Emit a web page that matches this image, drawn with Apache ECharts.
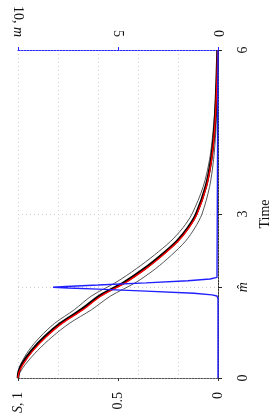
<!DOCTYPE html>
<html><head><meta charset="utf-8">
<script src="https://cdn.jsdelivr.net/npm/echarts@6/dist/echarts.min.js"></script>
<style>html,body{margin:0;padding:0;background:#fff}#c{width:273px;height:418px}</style>
</head><body><div id="c"></div>
<script>
// Time grid (x of the original chart, drawn vertically here)
const timePoints = [0, 0.1, 0.25, 0.5, 0.75, 1.0, 1.25, 1.5, 1.75, 2.0, 2.25, 2.5, 2.75, 3.0, 3.5, 4.0, 4.5, 5.0, 5.5, 6.0];
// Estimated survival curve (red)
const sRed   = [1, 0.995, 0.975, 0.925, 0.86, 0.78, 0.675, 0.585, 0.46, 0.36, 0.275, 0.2, 0.145, 0.105, 0.058, 0.032, 0.018, 0.01, 0.005, 0.002];
// Central black curve
const sBlack = [1, 0.997, 0.981, 0.932, 0.868, 0.788, 0.684, 0.594, 0.469, 0.368, 0.282, 0.206, 0.15, 0.109, 0.061, 0.034, 0.019, 0.011, 0.006, 0.002];
// Band limits (thin grey)
const sUpper = [1, 1.0, 0.987, 0.947, 0.89, 0.817, 0.718, 0.633, 0.51, 0.408, 0.318, 0.237, 0.175, 0.13, 0.074, 0.042, 0.025, 0.014, 0.007, 0.003];
const sLower = [1, 0.99, 0.963, 0.903, 0.83, 0.743, 0.632, 0.537, 0.41, 0.312, 0.232, 0.163, 0.115, 0.08, 0.042, 0.022, 0.011, 0.006, 0.003, 0.001];
// Blue density of m-hat (m axis, 0..10)
const mTimes  = [0, 1.45, 1.5, 1.52, 1.55, 1.59, 1.625, 1.645, 1.66, 1.675, 1.70, 1.74, 1.78, 1.81, 1.84, 1.87, 6.0];
const mValues = [0, 0, 0.05, 0.3, 1.2, 3.6, 6.0, 7.5, 8.25, 7.6, 6.0, 3.6, 1.5, 0.4, 0.05, 0, 0];
// Tick labels
const sTicks = [0, 0.5, 1];
const mTicks = [0, 5, 10];
const timeTicks = [0, 3, 6];
const mHat = 1.66;

const FONT = 'Liberation Serif';
const FS = 14;
const pairs = (vals, ts) => vals.map((v, i) => [v, ts[i]]);

const chart = echarts.init(document.getElementById('c'), null, {renderer: 'canvas'});
chart.setOption({
  animation: false,
  backgroundColor: '#fff',
  grid: {left: 18, right: 55, top: 50, bottom: 40, containLabel: false, outerBoundsMode: 'none'},
  xAxis: [
    { // S axis, bottom
      type: 'value', position: 'bottom', min: 0, max: 1, interval: 0.5, inverse: true,
      axisLine: {show: true, lineStyle: {color: '#555', type: [2, 1], width: 1}},
      axisTick: {show: true, inside: false, length: 3, lineStyle: {color: '#333'}},
      splitLine: {show: false},
      axisLabel: {
        rotate: 90, margin: 14, color: '#111', fontFamily: FONT, fontSize: FS,
        formatter: v => v === 1 ? '{i|S}, 1' : String(v),
        rich: {i: {fontStyle: 'italic', fontFamily: FONT, fontSize: FS, color: '#111'}}
      }
    },
    { // m axis, top
      type: 'value', position: 'top', min: 0, max: 10, interval: 5, inverse: true,
      axisLine: {show: true, lineStyle: {color: '#2828ff', type: [2, 1], width: 1}},
      axisTick: {show: true, length: 3, lineStyle: {color: '#2828ff'}},
      splitLine: {show: false},
      axisLabel: {
        rotate: 90, margin: 13, color: '#111', fontFamily: FONT, fontSize: FS,
        formatter: v => v === 10 ? '10, {i|m}' : String(v),
        rich: {i: {fontStyle: 'italic', fontFamily: FONT, fontSize: FS, color: '#111'}}
      }
    },
    { // grid only
      type: 'value', position: 'bottom', min: 0, max: 1, interval: 0.2, inverse: true,
      axisLine: {show: false}, axisTick: {show: false}, axisLabel: {show: false},
      splitLine: {show: true, lineStyle: {color: '#cfcfcf', type: [1, 3], width: 1}}
    }
  ],
  yAxis: [
    {
      type: 'value', position: 'right', min: 0, max: 6, interval: 1,
      name: 'Time', nameLocation: 'middle', nameRotate: 90, nameGap: 35,
      nameTextStyle: {fontFamily: FONT, fontSize: FS, color: '#111'},
      axisLine: {show: true, lineStyle: {color: '#333', type: [2, 1]}},
      axisTick: {show: true, length: 4, customValues: [timeTicks[0], mHat, timeTicks[1], timeTicks[2]], lineStyle: {color: '#222'}},
      splitLine: {show: true, lineStyle: {color: '#cfcfcf', type: [1, 3], width: 1}},
      axisLabel: {
        rotate: 90, margin: 18, color: '#111', fontFamily: FONT, fontSize: FS,
        customValues: [timeTicks[0], mHat, timeTicks[1], timeTicks[2]],
        formatter: v => Math.abs(v - mHat) < 1e-6 ? '{i|m\u0302}' : String(v),
        rich: {i: {fontStyle: 'italic', fontFamily: FONT, fontSize: FS, color: '#111'}}
      }
    }
  ],
  series: [
    {type: 'line', xAxisIndex: 0, yAxisIndex: 0, data: pairs(sUpper, timePoints), smooth: 0.3, symbol: 'none', lineStyle: {color: '#444', width: 0.9}},
    {type: 'line', xAxisIndex: 0, yAxisIndex: 0, data: pairs(sLower, timePoints), smooth: 0.3, symbol: 'none', lineStyle: {color: '#444', width: 0.9}},
    {type: 'line', xAxisIndex: 0, yAxisIndex: 0, data: pairs(sBlack, timePoints), smooth: 0.3, symbol: 'none', lineStyle: {color: '#000', width: 2.6}},
    {type: 'line', xAxisIndex: 0, yAxisIndex: 0, data: pairs(sRed, timePoints), smooth: 0.3, symbol: 'none', lineStyle: {color: '#ff0000', width: 1.4}},
    {type: 'line', xAxisIndex: 1, yAxisIndex: 0, data: pairs(mValues, mTimes), smooth: false, symbol: 'none', lineStyle: {color: '#2020ff', width: 1.4}}
  ]
});
</script>
</body></html>
